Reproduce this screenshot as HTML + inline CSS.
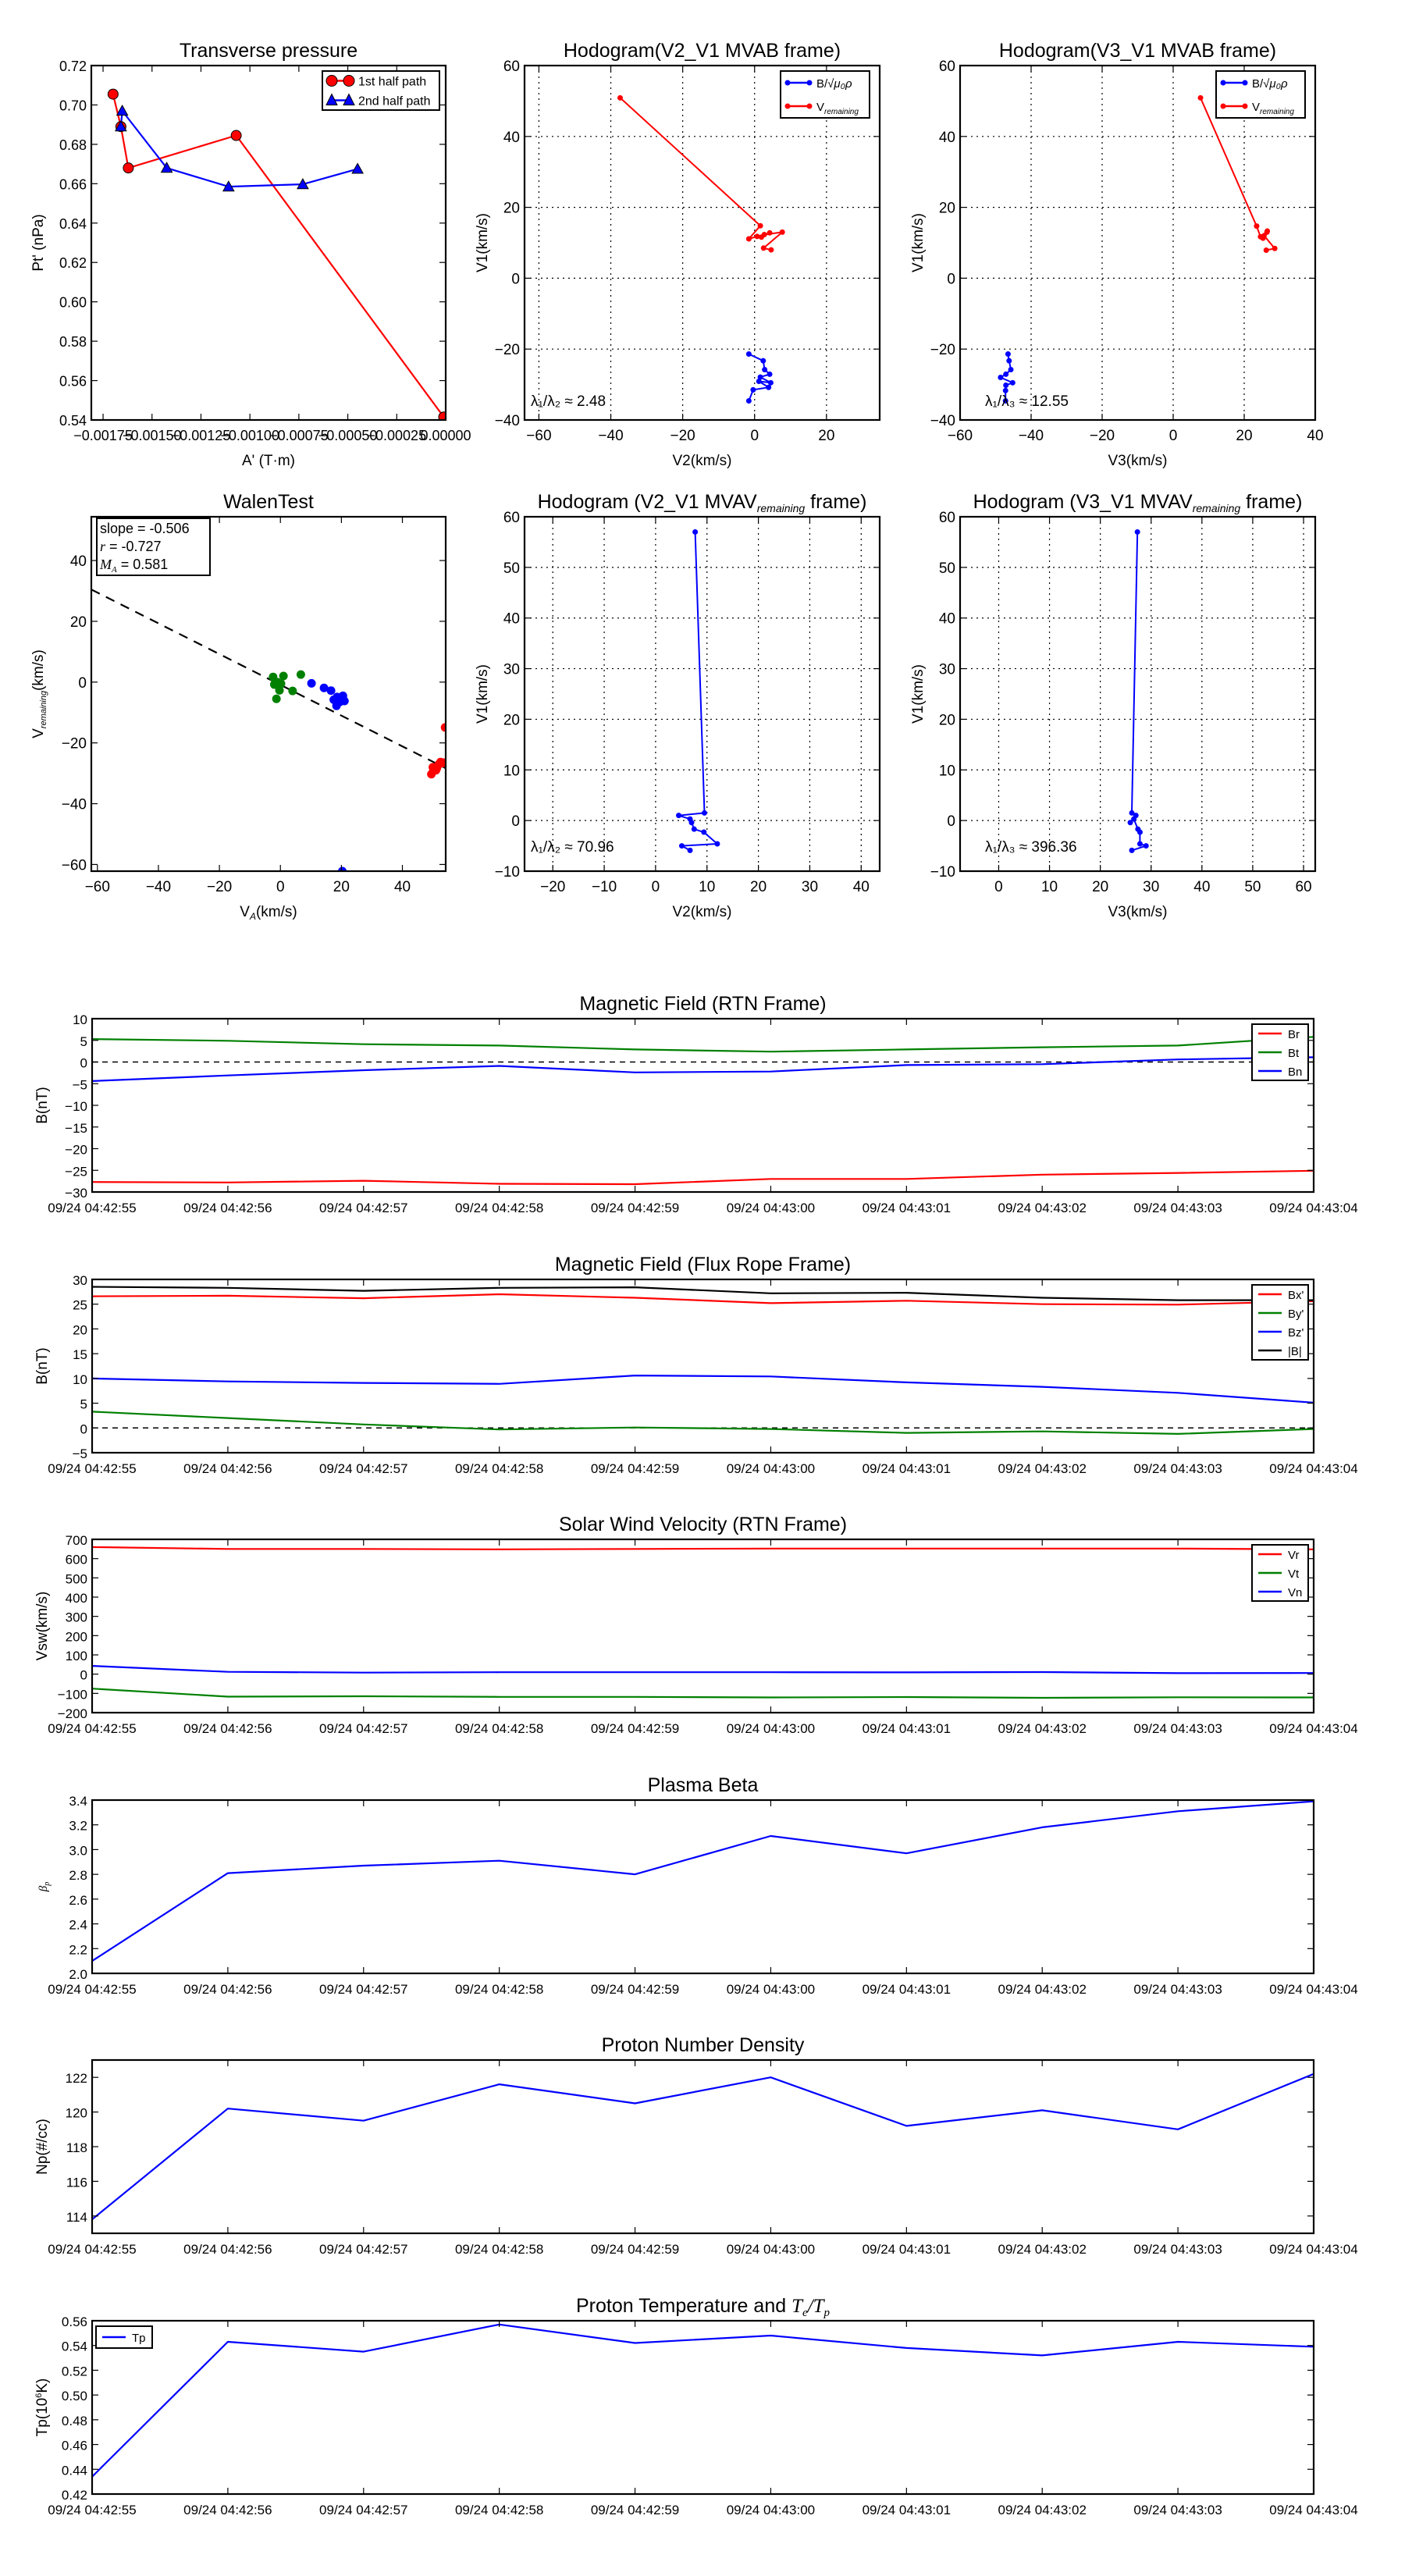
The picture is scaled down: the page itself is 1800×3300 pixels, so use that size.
<!DOCTYPE html>
<html><head><meta charset="utf-8">
<style>
html,body{margin:0;padding:0;background:#fff;}
svg{display:block;font-family:"Liberation Sans","DejaVu Sans",sans-serif;}
</style></head>
<body>
<svg id="fig" width="1800" height="3300" viewBox="0 0 1800 3300" xmlns="http://www.w3.org/2000/svg"></svg>
<script>
// ---------- data ----------
const ptRedA = [-0.001699,-0.001659,-0.001621,-0.001070,-0.000010];
const ptRedP = [0.7055,0.689,0.668,0.6845,0.5415];
const ptBlueA = [-0.001659,-0.001652,-0.001425,-0.001109,-0.000730,-0.000450];
const ptBlueP = [0.689,0.697,0.668,0.6585,0.6597,0.6675];
const ptXTicks = [-0.00175,-0.0015,-0.00125,-0.001,-0.00075,-0.0005,-0.00025,0];
const ptXLabels = ["−0.00175","−0.00150","−0.00125","−0.00100","−0.00075","−0.00050","−0.00025","0.00000"];
const ptYTicks = [0.54,0.56,0.58,0.60,0.62,0.64,0.66,0.68,0.70,0.72];

const h2VremV2 = [-37.4,1.6,-1.6,0.7,1.9,4.2,2.7,7.7,2.5,4.6];
const h2VremV1 = [50.9,14.8,11.1,11.8,11.6,12.8,12.3,13.0,8.5,8.0];
const h2BV2 = [-1.6,2.4,2.8,4.2,1.6,4.5,1.2,3.9,-0.4,-1.6];
const h2BV1 = [-21.4,-23.3,-25.8,-27.1,-27.9,-29.5,-29.1,-30.8,-31.5,-34.6];
const h3VremV3 = [7.7,23.5,24.6,26.4,25.3,26.5,25.6,28.6,26.2];
const h3VremV1 = [50.9,14.7,11.7,13.0,11.3,13.3,12.0,8.4,7.9];
const h3BV3 = [-46.5,-46.2,-45.7,-47.1,-48.6,-45.2,-47.1,-47.2,-47.2];
const h3BV1 = [-21.4,-23.3,-25.8,-27.1,-28.0,-29.5,-30.2,-31.7,-34.6];

const walenGreenX = [-2.4,1.0,6.7,-2.0,0.2,-0.3,4.0,-1.3,-1.0,-0.5];
const walenGreenY = [1.7,2.0,2.5,-0.8,-0.5,-2.7,-2.9,-5.5,0.0,-1.5];
const walenBlueX = [10.2,14.3,16.6,17.5,18.6,20.5,21.0,18.4,19.5,20.3];
const walenBlueY = [-0.4,-1.9,-2.8,-5.8,-4.9,-4.5,-6.2,-7.8,-6.5,-62.2];
const walenRedX = [49.5,50.0,51.3,52.5,53.3,54.0,50.2,51.0,53.8,52.0];
const walenRedY = [-30.3,-28.0,-28.3,-26.3,-26.6,-14.9,-28.9,-29.0,-26.5,-27.0];
const walenSlope = -0.506;
const walenIntercept = -0.9;

const m5V2 = [7.7,9.5,4.5,6.7,7.0,7.5,9.4,12.0,5.1,6.7];
const m5V1 = [57.0,1.5,1.0,0.3,-0.4,-1.7,-2.3,-4.6,-5.0,-5.9];
const m6V3 = [27.3,26.2,27.0,25.9,26.6,27.4,27.8,27.8,29.0,26.2];
const m6V1 = [57.0,1.5,1.0,-0.4,0.3,-1.7,-2.3,-4.6,-5.0,-5.9];

const timeLabels = ["09/24 04:42:55","09/24 04:42:56","09/24 04:42:57","09/24 04:42:58","09/24 04:42:59","09/24 04:43:00","09/24 04:43:01","09/24 04:43:02","09/24 04:43:03","09/24 04:43:04"];
const Br = [-27.7,-27.8,-27.4,-28.1,-28.2,-27.0,-27.0,-26.0,-25.6,-25.1];
const Bt = [5.3,4.9,4.1,3.8,2.9,2.4,2.9,3.4,3.8,5.8];
const Bn = [-4.4,-3.1,-1.9,-0.9,-2.4,-2.2,-0.7,-0.5,0.6,1.1];
const Bx = [26.6,26.7,26.2,27.0,26.3,25.2,25.7,25.0,24.9,25.6];
const By = [3.3,2.0,0.7,-0.3,0.1,-0.2,-1.0,-0.7,-1.2,-0.2];
const Bz = [10.0,9.4,9.1,8.9,10.6,10.4,9.2,8.3,7.1,5.1];
const Bmag = [28.5,28.3,27.7,28.3,28.4,27.2,27.3,26.3,25.8,25.8];
const Vr = [660,650,650,648,650,652,652,652,652,648];
const Vt = [-75,-117,-115,-118,-118,-121,-119,-123,-120,-121];
const Vn = [43,12,8,10,10,10,9,11,5,6];
const beta = [2.10,2.81,2.87,2.91,2.80,3.11,2.97,3.18,3.31,3.39];
const Np = [113.8,120.2,119.5,121.6,120.5,122.0,119.2,120.1,119.0,122.2];
const Tp = [0.434,0.543,0.535,0.557,0.542,0.548,0.538,0.532,0.543,0.539];

// ---------- helpers ----------
const NS = "http://www.w3.org/2000/svg";
const fig = document.getElementById("fig");
function mk(tag, attrs, parent, txt){
  const e = document.createElementNS(NS, tag);
  for (const k in attrs) e.setAttribute(k, attrs[k]);
  if (txt !== undefined) e.textContent = txt;
  (parent || fig).appendChild(e);
  return e;
}
function fmt(v, d){ const s = v.toFixed(d); return s.replace("-", "−"); }

function makeAxes(name, o){
  const g = mk("g", {});
  
  
  const sx = v => o.x + (v - o.xmin) / (o.xmax - o.xmin) * o.w;
  const sy = v => o.y + o.h - (v - o.ymin) / (o.ymax - o.ymin) * o.h;
  const clipId = "clip-" + name;
  const cp = mk("clipPath", {id: clipId}, g);
  mk("rect", {x:o.x, y:o.y, width:o.w, height:o.h}, cp);
  if (o.grid){
    o.xticks.forEach(t => { const l = mk("line", {x1:sx(t), x2:sx(t), y1:o.y, y2:o.y+o.h, stroke:"#000", "stroke-width":1.2, "stroke-dasharray":"2,5"}, g);
        });
    o.yticks.forEach(t => { const l = mk("line", {x1:o.x, x2:o.x+o.w, y1:sy(t), y2:sy(t), stroke:"#000", "stroke-width":1.2, "stroke-dasharray":"2,5"}, g);
        });
  }
  const plot = mk("g", {"clip-path":"url(#"+clipId+")"}, g);
  const TL = 8;
  o.xticks.forEach((t, i) => {
    const X = sx(t);
    mk("line", {x1:X, x2:X, y1:o.y+o.h, y2:o.y+o.h-TL, stroke:"#000", "stroke-width":1.2}, g);
    mk("line", {x1:X, x2:X, y1:o.y, y2:o.y+TL, stroke:"#000", "stroke-width":1.2}, g);
    const lab = o.xlabels ? o.xlabels[i] : fmt(t, o.xdec||0);
    const tx = mk("text", {x:X, y:o.y+o.h+26, "text-anchor":"middle", "font-size":o.tfs||19}, g, lab);
     
  });
  o.yticks.forEach((t, i) => {
    const Y = sy(t);
    mk("line", {x1:o.x, x2:o.x+TL, y1:Y, y2:Y, stroke:"#000", "stroke-width":1.2}, g);
    mk("line", {x1:o.x+o.w, x2:o.x+o.w-TL, y1:Y, y2:Y, stroke:"#000", "stroke-width":1.2}, g);
    const lab = o.ylabels ? o.ylabels[i] : fmt(t, o.ydec||0);
    const tx = mk("text", {x:o.x-6, y:Y+7, "text-anchor":"end", "font-size":o.tfs||19}, g, lab);
     
  });
  const fr = mk("rect", {x:o.x, y:o.y, width:o.w, height:o.h, fill:"none", stroke:"#000", "stroke-width":2.2}, g);
   
  if (o.title){
    const tt = mk("text", {x:o.x+o.w/2, y:o.y-11, "text-anchor":"middle", "font-size":25}, g);
    tt.innerHTML = o.title;
     
  }
  if (o.xtitle){
    const xt = mk("text", {x:o.x+o.w/2, y:o.y+o.h+o.xtOff, "text-anchor":"middle", "font-size":19}, g);
    xt.innerHTML = o.xtitle;
     
  }
  if (o.ytitle){
    const cx = o.x - o.ytOff, cy = o.y + o.h/2;
    const yt = mk("text", {x:cx, y:cy, "text-anchor":"middle", "font-size":19, transform:"rotate(-90 "+cx+" "+cy+")"}, g);
    yt.innerHTML = o.ytitle;
     
  }
  return {sx, sy, g, plot, o};
}
function line(ax, xs, ys, color, name, w){
  const d = xs.map((v,i)=>(i?"L":"M")+ax.sx(v).toFixed(1)+","+ax.sy(ys[i]).toFixed(1)).join(" ");
  const p = mk("path", {d, fill:"none", stroke:color, "stroke-width":w||2.2, "stroke-linejoin":"round"}, ax.plot);
  
  
  return p;
}
function dots(ax, xs, ys, color, name, r, outline){
  xs.forEach((v,i)=>{
    const c = mk("circle", {cx:ax.sx(v), cy:ax.sy(ys[i]), r:r, fill:color, stroke:outline?"#000":"none", "stroke-width":1}, ax.plot);
    
    
  });
}
function tris(ax, xs, ys, color, name, s){
  xs.forEach((v,i)=>{
    const X = ax.sx(v), Y = ax.sy(ys[i]);
    const t = mk("polygon", {points:`${X},${Y-s} ${X-s},${Y+s*0.8} ${X+s},${Y+s*0.8}`, fill:color, stroke:"#000", "stroke-width":1}, ax.plot);
    
    
  });
}
function legendBox(x, y, w, h, entries, fs){
  const g = mk("g", {});
  
  
  mk("rect", {x, y, width:w, height:h, fill:"#fff", stroke:"#000", "stroke-width":2}, g);
  const step = h / entries.length;
  entries.forEach((e, i) => {
    const cy = y + step*(i+0.5);
    const eg = mk("g", {}, g);
    
    
    mk("line", {x1:x+8, x2:x+38, y1:cy, y2:cy, stroke:e.c, "stroke-width":2.5}, eg);
    if (e.m === "o"){ mk("circle",{cx:x+12,cy,r:7,fill:e.c,stroke:"#000"},eg); mk("circle",{cx:x+34,cy,r:7,fill:e.c,stroke:"#000"},eg); }
    if (e.m === "^"){ [x+12,x+34].forEach(X=>mk("polygon",{points:`${X},${cy-8} ${X-7},${cy+6} ${X+7},${cy+6}`,fill:e.c,stroke:"#000"},eg)); }
    if (e.m === "."){ mk("circle",{cx:x+9,cy,r:3.5,fill:e.c},eg); mk("circle",{cx:x+37,cy,r:3.5,fill:e.c},eg); }
    const t = mk("text", {x:x+46, y:cy+6, "font-size":fs||17}, eg);
    t.innerHTML = e.t;
    
    
  });
}

// ---------- Transverse pressure ----------
const a1 = makeAxes("transverse-pressure-chart", {x:117,y:84,w:454,h:454,xmin:-0.00181,xmax:0,ymin:0.54,ymax:0.72,
  xticks:ptXTicks, xlabels:ptXLabels, yticks:ptYTicks, ydec:2, tfs:18, title:"Transverse pressure",
  xtitle:"A' (T·m)", xtOff:58, ytitle:"Pt' (nPa)", ytOff:62});
line(a1, ptRedA, ptRedP, "#ff0000", "first-half-path-line");
line(a1, ptBlueA, ptBlueP, "#0000ff", "second-half-path-line");
dots(a1, ptRedA, ptRedP, "#ff0000", "first-half-point", 6.5, true);
tris(a1, ptBlueA, ptBlueP, "#0000ff", "second-half-point", 7);
legendBox(413, 91, 150, 50, [{c:"#ff0000",m:"o",t:"1st half path"},{c:"#0000ff",m:"^",t:"2nd half path"}], 16);

// ---------- Hodogram V2_V1 MVAB ----------
const a2 = makeAxes("hodogram-v2-v1-mvab", {x:672,y:84,w:455,h:454,xmin:-64,xmax:34.8,ymin:-40,ymax:60,
  xticks:[-60,-40,-20,0,20], yticks:[-40,-20,0,20,40,60], grid:true, title:"Hodogram(V2_V1 MVAB frame)",
  xtitle:"V2(km/s)", xtOff:58, ytitle:"V1(km/s)", ytOff:48});
line(a2, h2VremV2, h2VremV1, "#ff0000", "v-remaining-line", 2);
dots(a2, h2VremV2, h2VremV1, "#ff0000", "v-remaining-point", 3.5);
line(a2, h2BV2, h2BV1, "#0000ff", "b-alfven-line", 2);
dots(a2, h2BV2, h2BV1, "#0000ff", "b-alfven-point", 3.5);
legendBox(1000, 91, 114, 60, [{c:"#0000ff",m:".",t:"B/√<tspan font-style='italic'>μ₀ρ</tspan>"},{c:"#ff0000",m:".",t:"V<tspan font-size='10' font-style='italic' dy='4'>remaining</tspan>"}], 15);
mk("text",{x:680,y:520,"font-size":19},fig,"λ₁/λ₂ ≈ 2.48");

// ---------- Hodogram V3_V1 MVAB ----------
const a3 = makeAxes("hodogram-v3-v1-mvab", {x:1230,y:84,w:455,h:454,xmin:-60,xmax:40,ymin:-40,ymax:60,
  xticks:[-60,-40,-20,0,20,40], yticks:[-40,-20,0,20,40,60], grid:true, title:"Hodogram(V3_V1 MVAB frame)",
  xtitle:"V3(km/s)", xtOff:58, ytitle:"V1(km/s)", ytOff:48});
line(a3, h3VremV3, h3VremV1, "#ff0000", "v-remaining-line", 2);
dots(a3, h3VremV3, h3VremV1, "#ff0000", "v-remaining-point", 3.5);
line(a3, h3BV3, h3BV1, "#0000ff", "b-alfven-line", 2);
dots(a3, h3BV3, h3BV1, "#0000ff", "b-alfven-point", 3.5);
legendBox(1558, 91, 114, 60, [{c:"#0000ff",m:".",t:"B/√<tspan font-style='italic'>μ₀ρ</tspan>"},{c:"#ff0000",m:".",t:"V<tspan font-size='10' font-style='italic' dy='4'>remaining</tspan>"}], 15);
mk("text",{x:1262,y:520,"font-size":19},fig,"λ₁/λ₃ ≈ 12.55");

// ---------- Walen test ----------
const a4 = makeAxes("walen-test-chart", {x:117,y:662,w:454,h:454,xmin:-62,xmax:54.2,ymin:-62.2,ymax:54.4,
  xticks:[-60,-40,-20,0,20,40], yticks:[-60,-40,-20,0,20,40], title:"WalenTest",
  xtitle:"V<tspan font-size='12' font-style='italic' dy='4'>A</tspan><tspan dy='-4'>(km/s)</tspan>", xtOff:58,
  ytitle:"V<tspan font-size='11' font-style='italic' dy='4'>remaining</tspan><tspan dy='-4'>(km/s)</tspan>", ytOff:62});
const fitX = [a4.o.xmin, a4.o.xmax];
const fitL = line(a4, fitX, fitX.map(v=>walenSlope*v+walenIntercept), "#000", "fit-line", 2.2);
fitL.setAttribute("stroke-dasharray","12,9");
dots(a4, walenGreenX, walenGreenY, "#008000", "walen-point-green", 5.5);
dots(a4, walenBlueX, walenBlueY, "#0000ff", "walen-point-blue", 5.5);
dots(a4, walenRedX, walenRedY, "#ff0000", "walen-point-red", 5.5);
(function(){
  const g = mk("g",{});
  
  
  mk("rect",{x:124,y:664,width:145,height:73,fill:"#fff",stroke:"#000","stroke-width":2},g);
  mk("text",{x:128,y:683,"font-size":18},g,"slope = -0.506");
  const t2 = mk("text",{x:128,y:706,"font-size":18},g); t2.innerHTML = "<tspan font-style='italic' font-family='Liberation Serif'>r</tspan> = -0.727";
  const t3 = mk("text",{x:128,y:729,"font-size":18},g); t3.innerHTML = "<tspan font-style='italic' font-family='Liberation Serif'>M<tspan font-size='11' dy='4'>A</tspan></tspan><tspan dy='-4'> = 0.581</tspan>";
})();

// ---------- Hodogram MVAV V2 ----------
const a5 = makeAxes("hodogram-v2-v1-mvav", {x:672,y:662,w:455,h:454,xmin:-25.5,xmax:43.6,ymin:-10,ymax:60,
  xticks:[-20,-10,0,10,20,30,40], yticks:[-10,0,10,20,30,40,50,60], grid:true,
  title:"Hodogram (V2_V1 MVAV<tspan font-size='14' font-style='italic' dy='5'>remaining</tspan><tspan dy='-5'> frame)</tspan>",
  xtitle:"V2(km/s)", xtOff:58, ytitle:"V1(km/s)", ytOff:48});
line(a5, m5V2, m5V1, "#0000ff", "mvav-line", 2);
dots(a5, m5V2, m5V1, "#0000ff", "mvav-point", 3.5);
mk("text",{x:680,y:1091,"font-size":19},fig,"λ₁/λ₂ ≈ 70.96");

// ---------- Hodogram MVAV V3 ----------
const a6 = makeAxes("hodogram-v3-v1-mvav", {x:1230,y:662,w:455,h:454,xmin:-7.6,xmax:62.3,ymin:-10,ymax:60,
  xticks:[0,10,20,30,40,50,60], yticks:[-10,0,10,20,30,40,50,60], grid:true,
  title:"Hodogram (V3_V1 MVAV<tspan font-size='14' font-style='italic' dy='5'>remaining</tspan><tspan dy='-5'> frame)</tspan>",
  xtitle:"V3(km/s)", xtOff:58, ytitle:"V1(km/s)", ytOff:48});
line(a6, m6V3, m6V1, "#0000ff", "mvav-line", 2);
dots(a6, m6V3, m6V1, "#0000ff", "mvav-point", 3.5);
mk("text",{x:1262,y:1091,"font-size":19},fig,"λ₁/λ₃ ≈ 396.36");

// ---------- time series ----------
const idx = timeLabels.map((_, i) => i);
function ts(name, top, ymin, ymax, yticks, ydec, title, ytitle){
  return makeAxes(name, {x:118,y:top,w:1565,h:222,xmin:0,xmax:9,ymin,ymax,
    xticks:idx, xlabels:timeLabels, yticks, ydec, tfs:17, title, ytitle, ytOff:58});
}
function zeroLine(ax){
  const l = line(ax, [0,9], [0,0], "#000", "zero-reference-line", 1.5);
  l.setAttribute("stroke-dasharray","7,6");
}
const t1 = ts("magnetic-field-rtn-chart", 1305, -30, 10, [-30,-25,-20,-15,-10,-5,0,5,10], 0, "Magnetic Field (RTN Frame)", "B(nT)");
zeroLine(t1);
line(t1, idx, Br, "#ff0000", "series-br");
line(t1, idx, Bt, "#008000", "series-bt");
line(t1, idx, Bn, "#0000ff", "series-bn");
legendBox(1604, 1312, 72, 72, [{c:"#ff0000",t:"Br"},{c:"#008000",t:"Bt"},{c:"#0000ff",t:"Bn"}], 15);

const t2 = ts("magnetic-field-flux-rope-chart", 1639, -5, 30, [-5,0,5,10,15,20,25,30], 0, "Magnetic Field (Flux Rope Frame)", "B(nT)");
zeroLine(t2);
line(t2, idx, Bx, "#ff0000", "series-bx");
line(t2, idx, By, "#008000", "series-by");
line(t2, idx, Bz, "#0000ff", "series-bz");
line(t2, idx, Bmag, "#000000", "series-bmag");
legendBox(1604, 1646, 72, 96, [{c:"#ff0000",t:"Bx'"},{c:"#008000",t:"By'"},{c:"#0000ff",t:"Bz'"},{c:"#000",t:"|B|"}], 15);

const t3 = ts("solar-wind-velocity-chart", 1972, -200, 700, [-200,-100,0,100,200,300,400,500,600,700], 0, "Solar Wind Velocity (RTN Frame)", "Vsw(km/s)");
line(t3, idx, Vr, "#ff0000", "series-vr");
line(t3, idx, Vt, "#008000", "series-vt");
line(t3, idx, Vn, "#0000ff", "series-vn");
legendBox(1604, 1979, 72, 72, [{c:"#ff0000",t:"Vr"},{c:"#008000",t:"Vt"},{c:"#0000ff",t:"Vn"}], 15);

const t4 = ts("plasma-beta-chart", 2306, 2.0, 3.4, [2.0,2.2,2.4,2.6,2.8,3.0,3.2,3.4], 1, "Plasma Beta", "<tspan font-style='italic' font-family='Liberation Serif' font-size='15'>β<tspan font-size='10' dy='3'>p</tspan></tspan>");
line(t4, idx, beta, "#0000ff", "series-beta");

const t5 = ts("proton-density-chart", 2639, 113, 123, [114,116,118,120,122], 0, "Proton Number Density", "Np(#/cc)");
line(t5, idx, Np, "#0000ff", "series-np");

const t6 = ts("proton-temperature-chart", 2973, 0.42, 0.56, [0.42,0.44,0.46,0.48,0.50,0.52,0.54,0.56], 2,
  "Proton Temperature and <tspan font-style='italic' font-family='Liberation Serif'>T<tspan font-size='15' dy='5'>e</tspan><tspan dy='-5'>/T</tspan><tspan font-size='15' dy='5'>p</tspan></tspan>",
  "Tp(10<tspan font-size='11' dy='-7'>6</tspan><tspan dy='7'>K)</tspan>");
line(t6, idx, Tp, "#0000ff", "series-tp");
legendBox(123, 2980, 72, 28, [{c:"#0000ff",t:"Tp"}], 15);
</script>
</body></html>
